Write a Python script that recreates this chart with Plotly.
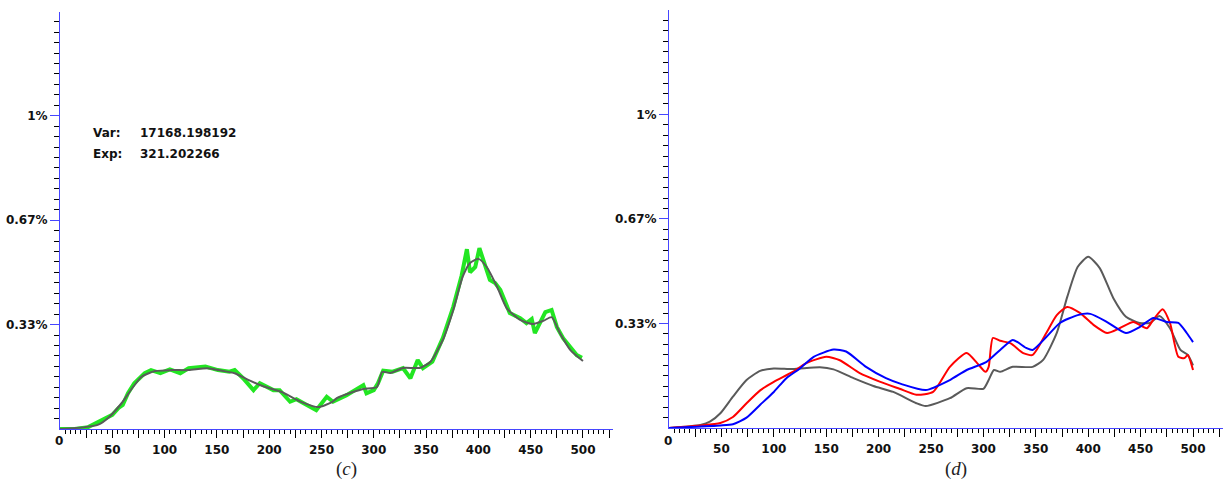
import plotly.graph_objects as go

# ---------------- data (values in %) ----------------
# panel (c): smoothed (grey) curve
c_grey_x = [0, 24, 36, 46, 59, 69, 78, 91, 107, 123, 141, 155, 167, 180, 193, 212, 231, 247,
            260, 265, 280, 290, 303, 308, 316, 328, 344, 354, 366, 376, 385, 392, 400, 408,
            418, 427, 440, 452, 462, 470, 478, 488, 500]
c_grey_y = [0, 0.006, 0.013, 0.035, 0.083, 0.13, 0.167, 0.185, 0.188, 0.188, 0.194, 0.186,
            0.178, 0.157, 0.138, 0.118, 0.086, 0.07, 0.086, 0.099, 0.118, 0.128, 0.134, 0.182,
            0.179, 0.195, 0.195, 0.214, 0.284, 0.38, 0.486, 0.53, 0.543, 0.517, 0.453, 0.386,
            0.348, 0.335, 0.345, 0.357, 0.306, 0.252, 0.217]

# panel (c): raw (green) curve
c_green_x = [0, 14, 27, 40, 50, 56, 60, 65, 71, 81, 87, 96, 105, 115, 123, 139, 151, 162,
             167, 175, 185, 191, 204, 210, 220, 226, 236, 245, 255, 261, 274, 284, 290, 293,
             300, 304, 309, 318, 328, 335, 339, 342, 347, 356, 366, 376, 384, 389, 392, 397,
             401, 406, 411, 416, 421, 430, 440, 446, 451, 454, 459, 464, 470, 475, 481, 488,
             494, 499]
c_green_y = [0, 0, 0.006, 0.03, 0.045, 0.067, 0.077, 0.114, 0.146, 0.178, 0.188, 0.178, 0.19,
             0.178, 0.194, 0.199, 0.188, 0.183, 0.188, 0.162, 0.124, 0.146, 0.124, 0.124,
             0.087, 0.095, 0.077, 0.06, 0.103, 0.087, 0.108, 0.13, 0.14, 0.114, 0.124, 0.146,
             0.186, 0.183, 0.194, 0.162, 0.194, 0.22, 0.194, 0.215, 0.29, 0.39, 0.49, 0.574,
             0.50, 0.517, 0.577, 0.53, 0.476, 0.466, 0.444, 0.37, 0.354, 0.338, 0.351, 0.306,
             0.338, 0.373, 0.38, 0.326, 0.29, 0.262, 0.236, 0.227]

# panel (d): grey
d_grey_x = [0, 30, 39, 49, 61, 74, 87, 100, 118, 144, 157, 176, 195, 214, 236, 245, 268, 284,
            300, 305, 310, 316, 328, 347, 357, 370, 380, 390, 400, 411, 424, 436, 449, 459,
            468, 478, 488, 495, 500]
d_grey_y = [0, 0.01, 0.02, 0.047, 0.1, 0.153, 0.182, 0.19, 0.188, 0.194, 0.187, 0.159, 0.134,
            0.115, 0.079, 0.07, 0.095, 0.127, 0.125, 0.153, 0.185, 0.179, 0.195, 0.195, 0.217,
            0.303, 0.418, 0.514, 0.546, 0.51, 0.414, 0.355, 0.335, 0.335, 0.357, 0.318,
            0.249, 0.233, 0.2]

# panel (d): red
d_red_x = [0, 30, 49, 61, 74, 87, 100, 118, 131, 150, 163, 182, 201, 220, 236, 252, 268, 284,
           294, 302, 305, 309, 316, 326, 338, 347, 360, 370, 380, 392, 405, 418, 430, 443,
           456, 462, 471, 478, 486, 492, 495, 500]
d_red_y = [0, 0.008, 0.016, 0.035, 0.079, 0.12, 0.147, 0.179, 0.207, 0.227, 0.216, 0.175,
           0.148, 0.125, 0.106, 0.115, 0.195, 0.239, 0.207, 0.179, 0.195, 0.287, 0.278, 0.27,
           0.239, 0.233, 0.303, 0.36, 0.386, 0.367, 0.329, 0.303, 0.318, 0.338, 0.318, 0.345,
           0.379, 0.335, 0.227, 0.223, 0.233, 0.185]

# panel (d): blue
d_blue_x = [0, 49, 61, 74, 87, 100, 112, 125, 138, 157, 169, 188, 207, 222, 245, 268, 284,
            303, 316, 328, 341, 347, 360, 373, 390, 402, 418, 436, 449, 462, 475, 486, 494,
            500]
d_blue_y = [0, 0.008, 0.012, 0.033, 0.074, 0.115, 0.159, 0.19, 0.227, 0.25, 0.244, 0.195,
            0.159, 0.14, 0.121, 0.153, 0.185, 0.211, 0.249, 0.281, 0.255, 0.249, 0.29, 0.335,
            0.36, 0.364, 0.338, 0.303, 0.322, 0.351, 0.338, 0.335, 0.303, 0.274]

y_tick_vals = [1 / 3, 2 / 3, 1]
y_tick_text = ["0.33%", "0.67%", "1%"]
x_major_vals = list(range(25, 526, 25))
x_major_text = [str(v) if v % 50 == 0 else "" for v in x_major_vals]
x_minor_vals = [v for v in range(5, 530, 5) if v % 25 != 0]
y_minor_vals = [i / 30 for i in range(1, 40) if i % 10 != 0]

var_text = "17168.198192"
exp_text = "321.202266"

# ---------------- figure ----------------
W, H = 1226, 484
AXIS_BLUE = "#4646ff"
TICK_DARK = "#000000"
GREY = "#5a5a5a"

fig = go.Figure()
fig.add_trace(go.Scatter(x=c_green_x, y=c_green_y, mode="lines",
                         line=dict(color="#22e622", width=4), xaxis="x", yaxis="y",
                         showlegend=False, hoverinfo="skip"))
fig.add_trace(go.Scatter(x=c_grey_x, y=c_grey_y, mode="lines",
                         line=dict(color=GREY, width=2, shape="spline", smoothing=0.6),
                         xaxis="x", yaxis="y", showlegend=False, hoverinfo="skip"))
fig.add_trace(go.Scatter(x=d_grey_x, y=d_grey_y, mode="lines",
                         line=dict(color=GREY, width=2, shape="spline", smoothing=0.6),
                         xaxis="x2", yaxis="y2", showlegend=False, hoverinfo="skip"))
fig.add_trace(go.Scatter(x=d_red_x, y=d_red_y, mode="lines",
                         line=dict(color="#ff0000", width=2, shape="spline", smoothing=0.6),
                         xaxis="x2", yaxis="y2", showlegend=False, hoverinfo="skip"))
fig.add_trace(go.Scatter(x=d_blue_x, y=d_blue_y, mode="lines",
                         line=dict(color="#0000ff", width=2, shape="spline", smoothing=0.6),
                         xaxis="x2", yaxis="y2", showlegend=False, hoverinfo="skip"))
# invisible carriers so that the tick-only overlay axes get drawn
for xa, ya, xs, ys in [("x3", "y3", c_grey_x, c_grey_y), ("x4", "y4", d_grey_x, d_grey_y)]:
    fig.add_trace(go.Scatter(x=xs, y=ys, mode="lines", line=dict(width=0, color="rgba(0,0,0,0)"),
                             xaxis=xa, yaxis=ya, showlegend=False, hoverinfo="skip"))

tickfont = dict(family="DejaVu Sans", size=12, color="#111111", weight="bold")

xdom = {"c": [60 / W, 613 / W], "d": [669 / W, 1223 / W]}
xrng = {"c": [0, 528.7], "d": [0, 528.6]}
ydom = {"c": [(H - 429) / H, (H - 12) / H], "d": [(H - 428) / H, (H - 10) / H]}
yrng = {"c": [0, 1.331], "d": [0, 1.333]}


def xmain(k, anchor):
    return dict(domain=xdom[k], range=xrng[k], anchor=anchor, showline=True,
                linecolor=AXIS_BLUE, linewidth=1, showgrid=False, zeroline=False,
                ticks="outside", tickmode="array", tickvals=x_major_vals,
                ticktext=x_major_text, ticklen=8, tickcolor=TICK_DARK, tickwidth=1,
                tickfont=tickfont, ticklabelstandoff=2, fixedrange=True)


def xminor(k, anchor, over):
    return dict(domain=xdom[k], range=xrng[k], anchor=anchor, overlaying=over,
                showline=False, showgrid=False, zeroline=False, ticks="outside",
                tickmode="array", tickvals=x_minor_vals, ticktext=["" for _ in x_minor_vals],
                ticklen=4, tickcolor=TICK_DARK, tickwidth=1, showticklabels=False,
                side="bottom", fixedrange=True)


def ymain(k, anchor):
    return dict(domain=ydom[k], range=yrng[k], anchor=anchor, showline=True,
                linecolor=AXIS_BLUE, linewidth=1, showgrid=False, zeroline=False,
                ticks="outside", tickmode="array", tickvals=y_tick_vals,
                ticktext=y_tick_text, ticklen=9, tickcolor=AXIS_BLUE, tickwidth=1,
                tickfont=tickfont, fixedrange=True)


def yminor(k, anchor, over):
    return dict(domain=ydom[k], range=yrng[k], anchor=anchor, overlaying=over,
                showline=False, showgrid=False, zeroline=False, ticks="outside",
                tickmode="array", tickvals=y_minor_vals, ticktext=["" for _ in y_minor_vals],
                ticklen=5, tickcolor=TICK_DARK, tickwidth=1, showticklabels=False,
                side="left", fixedrange=True)


fig.update_layout(
    width=W, height=H,
    margin=dict(l=0, r=0, t=0, b=0),
    paper_bgcolor="white", plot_bgcolor="white",
    xaxis=xmain("c", "y"),
    yaxis=ymain("c", "x"),
    xaxis2=xmain("d", "y2"),
    yaxis2=ymain("d", "x2"),
    xaxis3=xminor("c", "y", "x"),
    yaxis3=yminor("c", "x", "y"),
    xaxis4=xminor("d", "y2", "x2"),
    yaxis4=yminor("d", "x2", "y2"),
)

ann = []
for x0 in (59, 668):
    ann.append(dict(x=x0 / W, y=(H - 441) / H, xref="paper", yref="paper", text="0",
                    showarrow=False, xanchor="center", yanchor="middle", font=tickfont))
for xc, lbl in [(346, "(<i>c</i>)"), (956, "(<i>d</i>)")]:
    ann.append(dict(x=xc / W, y=(H - 469) / H, xref="paper", yref="paper", text=lbl,
                    showarrow=False, xanchor="center", yanchor="middle",
                    font=dict(family="Liberation Serif", size=19, color="#222222")))
txtfont = dict(family="DejaVu Sans", size=12, color="#111111", weight="bold")
for yy, lab, val in [(133, "Var:", var_text), (154, "Exp:", exp_text)]:
    ann.append(dict(x=91 / W, y=(H - yy) / H, xref="paper", yref="paper", text=lab,
                    showarrow=False, xanchor="left", yanchor="middle", font=txtfont))
    ann.append(dict(x=138 / W, y=(H - yy) / H, xref="paper", yref="paper", text=val,
                    showarrow=False, xanchor="left", yanchor="middle", font=txtfont))
fig.update_layout(annotations=ann)

fig.write_html("out.html", config={"displayModeBar": False})
